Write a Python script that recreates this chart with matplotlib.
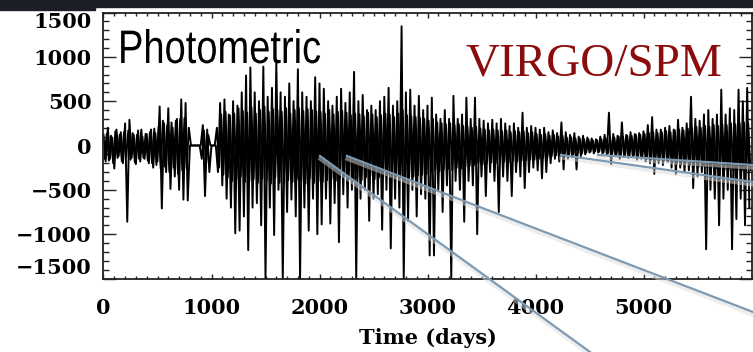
import numpy as np
import matplotlib
matplotlib.use("Agg")
import matplotlib.pyplot as plt
from matplotlib.ticker import MultipleLocator
from matplotlib.lines import Line2D
from matplotlib.textpath import TextPath
from matplotlib.patches import PathPatch
from matplotlib.font_manager import FontProperties
from matplotlib.transforms import Affine2D

# VIRGO/SPM photometric residuals.
# "flux" holds the extreme excursions (every 20 days), "core" the dense
# band in between (every 20 days, shifted by 10 days).
step_days = 20

flux_0000 = [120, -180, 200, -150, 90, -260, 180, -120, 150, -200,
             250, -860, 290, -140, 120, -210, 170, -180, 100, -150,
             130, -200, 180, -250, 140, -180, 440, -710, 250, -300,
             420, -490, 200, -350, 300, -500, 520, -610, 480, -620,
             0, 0, 0, 0, 0, 0, 230, -570, 180, -300]
flux_1000 = [0, 0, 0, -300, 480, -450, 520, -600, 350, -700,
             500, -990, 450, -960, 600, -800, 790, -1180, 880, -700,
             600, -650, 500, -900, 890, -1500, 550, -700, 650, -1010,
             940, -500, 600, -1500, 550, -750, 700, -610, 500, -800,
             860, -1500, 600, -700, 550, -960, 500, -600, 770, -1000]
flux_2000 = [700, -890, 640, -600, 500, -880, 450, -650, 550, -1090,
             640, -550, 480, -700, 600, -500, 830, -1500, 500, -600,
             570, -500, 400, -850, 450, -600, 400, -550, 500, -950,
             550, -500, 650, -1160, 450, -600, 500, -700, 1345, -1500,
             600, -850, 630, -500, 450, -800, 560, -550, 400, -600]
flux_3000 = [450, -1240, 540, -1240, 350, -500, 300, -750, 400, -450,
             300, -1500, 560, -400, 300, -500, 350, -860, 540, -400,
             300, -450, 540, -1000, 300, -350, 280, -570, 250, -300,
             290, -400, 250, -750, 300, -350, 250, -400, 220, -570,
             250, -300, 200, -350, 370, -480, 200, -300, 220, -250]
flux_4000 = [200, -280, 180, -370, 200, -300, 150, -200, 170, -150,
             140, -180, 260, -270, 150, -150, 120, -130, 140, -270,
             100, -120, 110, -100, 90, -80, 80, -90, 70, -80,
             100, -90, 120, -100, 370, -210, 130, -120, 110, -150,
             260, -130, 120, -140, 150, -120, 130, -160, 140, -150]
flux_5000 = [160, -180, 230, -200, 320, -320, 180, -200, 180, -220,
             200, -180, 220, -250, 180, -320, 290, -250, 200, -300,
             250, -280, 550, -480, 300, -350, 280, -300, 350, -1170,
             400, -500, 300, -600, 350, -900, 630, -600, 350, -500,
             420, -1170, 400, -830, 630, -600, 500, -900, 650, -700]

core_0000 = [-150, 130, -170, 110, -200, 160, -140, 120, -180, 150,
             -130, 170, -160, 140, -190, 120, -150, 180, -140, 130,
             -170, 150, -200, 190, -220, 210, -260, 280, -240, 230,
             -300, 260, -250, 280, -320, 300, -280, 310, -260, 200,
             0, 0, 0, 0, 0, -150, 170, -200, 120, 0]
core_1000 = [0, 0, 200, -250, 350, -330, 380, -360, 340, -400,
             360, -380, 420, -350, 390, -410, 370, -400, 430, -380,
             360, -420, 400, -370, 440, -390, 380, -430, 410, -360,
             400, -420, 380, -440, 420, -390, 360, -410, 400, -380,
             420, -400, 390, -430, 410, -370, 400, -420, 380, -400]
core_2000 = [380, -410, 360, -390, 400, -370, 350, -400, 380, -360,
             390, -350, 370, -380, 340, -400, 360, -370, 350, -390,
             330, -360, 370, -340, 350, -380, 320, -360, 340, -350,
             360, -330, 350, -370, 320, -340, 360, -350, 400, -380,
             340, -360, 330, -350, 320, -340, 310, -330, 300, -320]
core_3000 = [280, -300, 300, -280, 260, -290, 250, -270, 240, -260,
             250, -280, 230, -250, 240, -260, 220, -240, 210, -230,
             200, -220, 210, -200, 190, -210, 180, -200, 170, -190,
             180, -200, 170, -190, 160, -180, 170, -190, 150, -170,
             160, -180, 150, -170, 160, -170, 140, -160, 150, -160]
core_4000 = [130, -150, 120, -140, 130, -130, 110, -120, 120, -110,
             100, -120, 110, -100, 90, -110, 90, -100, 80, -90,
             80, -90, 70, -80, 70, -70, 60, -70, 60, -70,
             70, -80, 80, -90, 90, -100, 90, -100, 100, -110,
             100, -110, 110, -120, 110, -120, 120, -130, 120, -130]
core_5000 = [130, -150, 140, -160, 150, -170, 140, -160, 150, -170,
             160, -180, 150, -190, 170, -200, 180, -210, 170, -200,
             190, -220, 200, -230, 210, -240, 200, -230, 220, -250,
             210, -240, 230, -260, 220, -250, 240, -270, 230, -260,
             250, -280, 240, -270, 250, -280, 260, -290, 250, -280]

flux = flux_0000 + flux_1000 + flux_2000 + flux_3000 + flux_4000 + flux_5000
core = core_0000 + core_1000 + core_2000 + core_3000 + core_4000 + core_5000
days = np.arange(len(flux)) * step_days
core_days = days + step_days // 2

ytick_vals = [1500, 1000, 500, 0, -500, -1000, -1500]
ytick_text = ["1500", "1000", "500", "0", "\u2212500", "\u22121000", "\u22121500"]
xtick_vals = [0, 1000, 2000, 3000, 4000, 5000]

W, H = 753, 352


def fx(px):
    return px / W


def fy(py):
    return 1 - py / H


def squeezed_text(fig, text, x_px, base_px, size_px, xscale, family, color):
    # text drawn as a path so it can be narrowed like the original lettering
    path = TextPath((0, 0), text, size=size_px, prop=FontProperties(family=family))
    tr = Affine2D().scale(xscale, 1.0).translate(x_px, H - base_px)
    patch = PathPatch(path, transform=tr, facecolor=color, edgecolor="none", zorder=6)
    fig.patches.append(patch)


fig = plt.figure(figsize=(W / 100, H / 100), dpi=100)
fig.patch.set_facecolor("white")

# dark strip at the top (background of the original slide)
fig.patches.append(plt.Rectangle((0, fy(7)), 1, 7 / H, transform=fig.transFigure,
                                 color="#1c1f26", zorder=-5))
fig.patches.append(plt.Rectangle((0, fy(10)), fx(95), 10 / H, transform=fig.transFigure,
                                 color="#1c1f26", zorder=-5))

ax = fig.add_axes([fx(103.5), fy(278.5), fx(751.5) - fx(103.5), fy(12.5) - fy(278.5)])
ax.plot(core_days, core, color="black", linewidth=1.4)
ax.plot(days, flux, color="black", linewidth=1.4)

ax.set_xlim(0, 6000)
ax.set_ylim(-1500, 1500)

lab_font = dict(family="DejaVu Serif", weight="bold", size=15)
ax.set_xticks(xtick_vals)
ax.set_xticklabels([str(v) for v in xtick_vals], fontdict=lab_font)
ax.set_yticks(ytick_vals)
ax.set_yticklabels(ytick_text, fontdict=lab_font)
ax.xaxis.set_minor_locator(MultipleLocator(100))
ax.yaxis.set_minor_locator(MultipleLocator(100))

ax.tick_params(axis="both", which="both", direction="in", top=True, right=True,
               color="#222222", width=1)
ax.tick_params(axis="x", which="major", length=3.8, pad=14)
ax.tick_params(axis="x", which="minor", length=1.9)
ax.tick_params(axis="y", which="major", length=9.5, pad=8.5)
ax.tick_params(axis="y", which="minor", length=4.5)

# keep the end labels inside the axis range like the original
ylabels = ax.get_yticklabels()
ylabels[0].set_va("top")
ylabels[-1].set_va("bottom")

for sp in ax.spines.values():
    sp.set_linewidth(1.3)
    sp.set_color("#222222")

ax.set_xlabel("Time (days)", fontdict=lab_font, labelpad=7)

squeezed_text(fig, "Photometric", 118, 63, 47, 0.81, "Liberation Sans", "black")
fig.text(fx(465), fy(75), "VIRGO/SPM", family="Liberation Serif",
         fontsize=34, color="#8a0c0c", va="baseline", ha="left")

# connector lines to the neighbouring panels
connectors = [((320, 156), (590, 352)),
              ((347, 156), (753, 312)),
              ((561, 155), (753, 182)),
              ((598, 155), (753, 165))]
for (x0, y0), (x1, y1) in connectors:
    fig.lines.append(Line2D([fx(x0), fx(x1)], [fy(y0 + 3), fy(y1 + 3)],
                            transform=fig.transFigure, color="#dcdcdc",
                            linewidth=2.5, alpha=0.5, zorder=4))
    fig.lines.append(Line2D([fx(x0), fx(x1)], [fy(y0), fy(y1)],
                            transform=fig.transFigure, color="#7d9ab2",
                            linewidth=1.6, zorder=5))

fig.savefig("out.png", dpi=100)
